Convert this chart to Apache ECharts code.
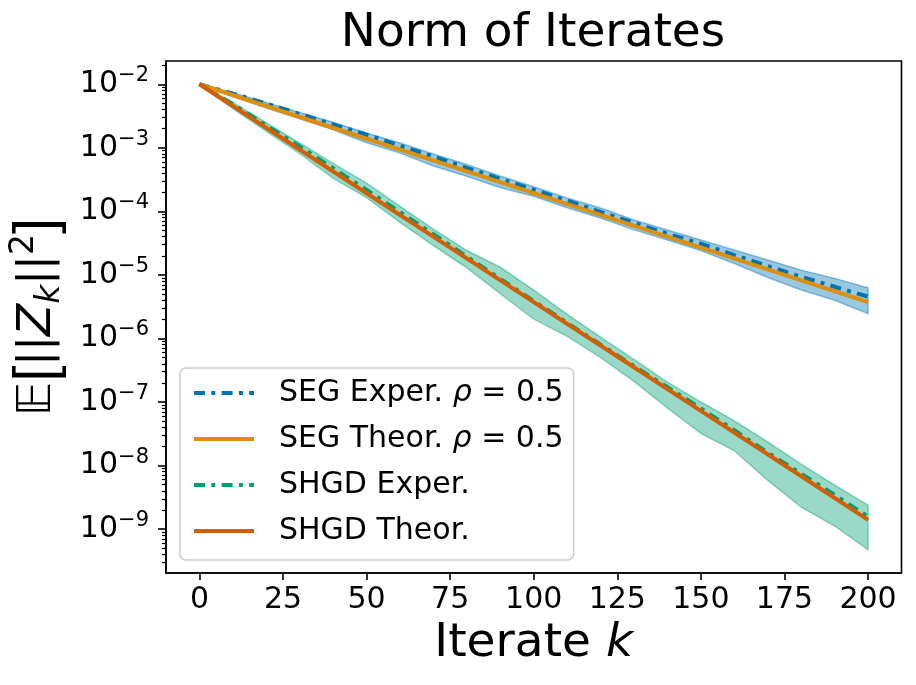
<!DOCTYPE html>
<html><head><meta charset="utf-8">
<script src="https://cdn.jsdelivr.net/npm/echarts@6/dist/echarts.min.js"></script>
<style>html,body{margin:0;padding:0;background:#fff}#c{width:916px;height:685px}</style>
</head><body><div id="c"></div>
<script>
// ---- data ----
const iters = [0,10,20,30,40,50,60,70,80,90,100,110,120,130,140,150,160,170,180,190,200];
const theoryIters = [0,25,50,75,100,125,150,175,200];

const segTheory  = [1.00e-2, 3.73e-3, 1.39e-3, 5.18e-4, 1.93e-4, 7.20e-5, 2.69e-5, 1.00e-5, 3.73e-6];
const shgdTheory = [1.00e-2, 1.39e-3, 1.93e-4, 2.69e-5, 3.74e-6, 5.20e-7, 7.24e-8, 1.01e-8, 1.40e-9];

const segExper = [1.00e-2, 7.12e-3, 4.97e-3, 3.41e-3, 2.34e-3, 1.61e-3, 1.08e-3, 7.30e-4, 4.83e-4, 3.25e-4, 2.19e-4,
                  1.48e-4, 9.78e-5, 6.59e-5, 4.44e-5, 3.10e-5, 2.05e-5, 1.38e-5, 9.33e-6, 6.52e-6, 4.55e-6];
const segUpper = [1.00e-2, 7.37e-3, 5.16e-3, 3.60e-3, 2.52e-3, 1.71e-3, 1.19e-3, 7.98e-4, 5.48e-4, 3.59e-4, 2.44e-4,
                  1.63e-4, 1.13e-4, 7.35e-5, 5.08e-5, 3.55e-5, 2.47e-5, 1.72e-5, 1.19e-5, 8.83e-6, 6.28e-6];
const segLower = [1.00e-2, 6.38e-3, 4.23e-3, 2.85e-3, 1.92e-3, 1.20e-3, 8.25e-4, 5.17e-4, 3.55e-4, 2.35e-4, 1.73e-4,
                  1.14e-4, 7.82e-5, 5.12e-5, 3.54e-5, 2.41e-5, 1.51e-5, 9.13e-6, 5.79e-6, 4.00e-6, 2.45e-6];

const shgdExper = [1.00e-2, 4.87e-3, 2.26e-3, 1.05e-3, 4.78e-4, 2.17e-4, 9.75e-5, 4.38e-5, 1.94e-5, 8.63e-6, 3.87e-6,
                   1.76e-6, 7.99e-7, 3.67e-7, 1.71e-7, 7.93e-8, 3.60e-8, 1.60e-8, 7.43e-9, 3.46e-9, 1.57e-9];
const shgdUpper = [1.00e-2, 5.16e-3, 2.47e-3, 1.19e-3, 5.69e-4, 2.78e-4, 1.20e-4, 5.24e-5, 2.42e-5, 1.32e-5, 5.77e-6,
                   2.40e-6, 1.05e-6, 4.68e-7, 2.05e-7, 1.00e-7, 5.07e-8, 2.35e-8, 1.05e-8, 4.93e-9, 2.38e-9];
const shgdLower = [1.00e-2, 4.15e-3, 1.82e-3, 8.11e-4, 3.31e-4, 1.64e-4, 6.70e-5, 2.88e-5, 1.29e-5, 5.05e-6, 2.02e-6,
                   1.08e-6, 5.01e-7, 2.11e-7, 8.02e-8, 3.21e-8, 1.71e-8, 5.84e-9, 2.21e-9, 1.12e-9, 4.73e-10];

const xTicks = [0,25,50,75,100,125,150,175,200];
const yMajorTicks = [1e-9,1e-8,1e-7,1e-6,1e-5,1e-4,1e-3,1e-2];
const seriesNames = ['SEG Exper. ρ=0.5', 'SEG Theor. ρ=0.5', 'SHGD Exper.', 'SHGD Theor.'];

// ---- styling / layout ----
const FONT = 'DejaVu Sans';
const Y_MIN = 2.04e-10, Y_MAX = 2.323e-2;
const yMinorTicks = [];
for (let e = -10; e <= -2; e++) for (let d = 2; d <= 9; d++) {
  const v = d * Math.pow(10, e);
  if (v > Y_MIN && v < Y_MAX) yMinorTicks.push(v);
}
const C = {segE:'#0173B2', segT:'#DE8F05', shE:'#029E73', shT:'#D55E00'};
const DASHDOT = [11, 6.3, 4, 6.3];

function pairs(xs, ys){ return xs.map((x,i)=>[x, ys[i]]); }
function band(upper, lower, fill){
  return {
    type:'custom', coordinateSystem:'cartesian2d', xAxisIndex:0, yAxisIndex:0,
    data:[[100, 1e-5]], silent:true, z:1,
    renderItem:(params, api)=>{
      const pts = [];
      iters.forEach((k,i)=>pts.push(api.coord([k, upper[i]])));
      for (let i = iters.length-1; i >= 0; i--) pts.push(api.coord([iters[i], lower[i]]));
      return {type:'polygon', shape:{points:pts}, style:{fill:fill, stroke:fill, lineWidth:1.5}};
    }
  };
}
function lineSeries(name, xs, ys, color, dashed, z){
  return {
    type:'line', name:name, data:pairs(xs, ys), showSymbol:false, symbol:'none', silent:true, z:z,
    color:color,
    lineStyle:{color:color, width:4, type: dashed ? DASHDOT : 'solid', cap:'butt'},
    itemStyle:{color:color}, emphasis:{disabled:true}
  };
}

const chart = echarts.init(document.getElementById('c'), null, {renderer:'canvas'});
chart.setOption({
  animation:false,
  backgroundColor:'#fff',
  textStyle:{fontFamily:FONT},
  title:{
    text:'Norm of Iterates', left:533, top:10, textAlign:'center', padding:0,
    textStyle:{fontFamily:FONT, fontSize:47, fontWeight:'normal', color:'#000', lineHeight:47}
  },
  grid:{left:165, top:61, width:736.5, height:512, show:true, borderColor:'#000', borderWidth:1.6, backgroundColor:'transparent'},
  legend:{
    data:seriesNames, orient:'vertical', left:180, top:368,
    padding:[10,10,14,12], itemGap:16, itemWidth:60, itemHeight:30,
    backgroundColor:'rgba(255,255,255,0.8)', borderColor:'#cccccc', borderWidth:1.5, borderRadius:6,
    selectedMode:false,
    itemStyle:{opacity:0, borderWidth:0},
    lineStyle:{width:4, type:'inherit', cap:'butt'},
    formatter:(name)=>{
      if (name.indexOf('ρ') >= 0) {
        const pre = name.split(' ρ')[0];
        return '{g|\u00a0}{n|' + pre + ' }{i|ρ}{n| = 0.5}';
      }
      return '{g|\u00a0}{n|' + name + '}';
    },
    textStyle:{
      fontFamily:FONT, fontSize:30, color:'#000', lineHeight:30,
      rich:{
        g:{width:20, fontSize:30, lineHeight:30},
        n:{fontFamily:FONT, fontSize:30, color:'#000', lineHeight:30},
        i:{fontFamily:FONT, fontSize:30, color:'#000', lineHeight:30, fontStyle:'italic'}
      }
    }
  },
  xAxis:{
    type:'value', min:-10, max:210,
    axisLine:{show:true, onZero:false, lineStyle:{color:'#000', width:1.6}},
    axisTick:{show:true, length:7, customValues:xTicks, lineStyle:{color:'#000', width:1.6}},
    axisLabel:{show:true, customValues:xTicks, margin:12, fontFamily:FONT, fontSize:30, lineHeight:30, color:'#000'},
    splitLine:{show:false},
    name:'{n|Iterate }{i|k}', nameLocation:'middle', nameGap:47,
    nameTextStyle:{
      rich:{
        n:{fontFamily:FONT, fontSize:47, color:'#000', lineHeight:46},
        i:{fontFamily:FONT, fontSize:47, color:'#000', lineHeight:46, fontStyle:'italic'}
      }
    }
  },
  yAxis:[{
    type:'log', logBase:10, min:Y_MIN, max:Y_MAX, position:'left',
    axisLine:{show:true, onZero:false, lineStyle:{color:'#000', width:1.6}},
    axisTick:{show:true, length:8, customValues:yMajorTicks, lineStyle:{color:'#000', width:1.6}},
    minorTick:{show:false},
    axisLabel:{
      show:true, customValues:yMajorTicks, margin:17,
      formatter:(v)=>'{b|10}{s|\u2212' + (-Math.round(Math.log10(v))) + '}',
      rich:{
        b:{fontFamily:FONT, fontSize:30, color:'#000', lineHeight:38},
        s:{fontFamily:FONT, fontSize:21, color:'#000', lineHeight:21, verticalAlign:'top'}
      }
    },
    splitLine:{show:false},
    name:'{e|𝔼}{br|[}{n|||}{it|Z}{sub|k}{n|||}{sup|2}{br|]}',
    nameLocation:'middle', nameRotate:90, nameGap:99,
    nameTextStyle:{
      rich:{
        e:{fontFamily:FONT, fontSize:47, color:'#000', lineHeight:59, fontStyle:'italic'},
        br:{fontFamily:'Liberation Sans', fontSize:58, color:'#000', lineHeight:59},
        n:{fontFamily:FONT, fontSize:44, color:'#000', lineHeight:59},
        it:{fontFamily:FONT, fontSize:47, color:'#000', lineHeight:59, fontStyle:'italic'},
        sub:{fontFamily:FONT, fontSize:33, color:'#000', lineHeight:33, fontStyle:'italic', verticalAlign:'bottom'},
        sup:{fontFamily:FONT, fontSize:33, color:'#000', lineHeight:33, verticalAlign:'top'}
      }
    }
  },{
    type:'log', logBase:10, min:Y_MIN, max:Y_MAX, position:'left',
    axisLine:{show:false, onZero:false},
    axisTick:{show:true, length:4, customValues:yMinorTicks, lineStyle:{color:'#000', width:1.2}},
    axisLabel:{show:false},
    splitLine:{show:false}
  }],
  series:[
    band(segUpper, segLower, 'rgba(1,115,178,0.4)'),
    band(shgdUpper, shgdLower, 'rgba(2,158,115,0.4)'),
    lineSeries(seriesNames[0], iters, segExper, C.segE, true, 3),
    lineSeries(seriesNames[1], theoryIters, segTheory, C.segT, false, 4),
    lineSeries(seriesNames[2], iters, shgdExper, C.shE, true, 5),
    lineSeries(seriesNames[3], theoryIters, shgdTheory, C.shT, false, 6)
  ]
});
</script>
</body></html>
